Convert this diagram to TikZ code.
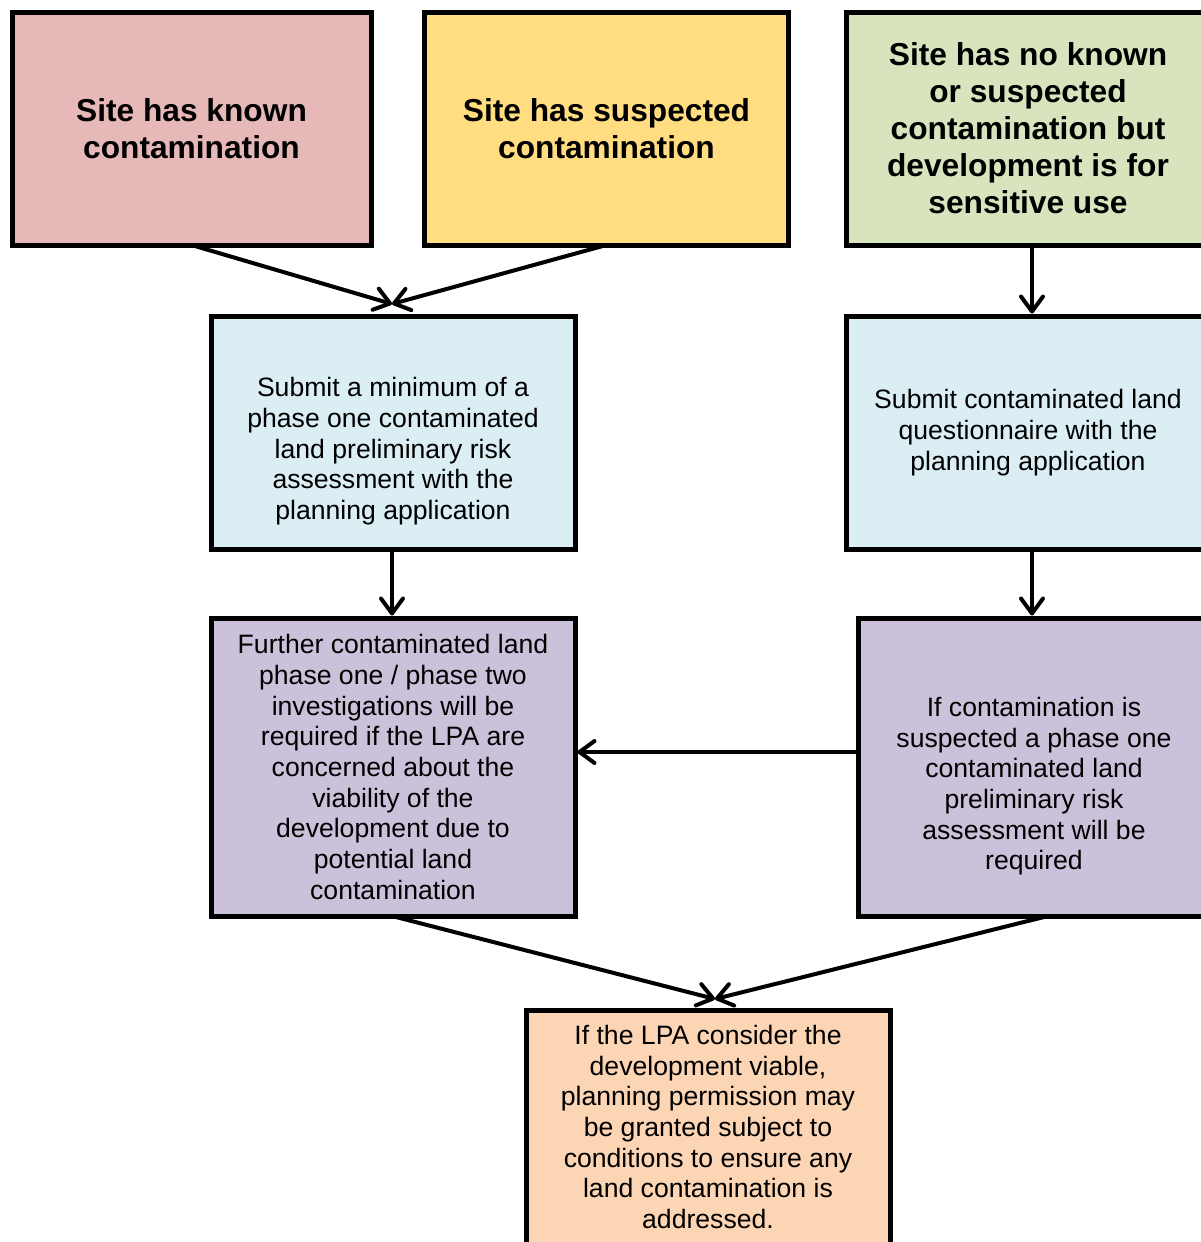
\documentclass[tikz,border=0pt]{standalone}
\usepackage{fontspec}
\setmainfont{Liberation Sans}
\usetikzlibrary{arrows.meta,calc}
\definecolor{cred}{HTML}{E6B9B8}
\definecolor{cyellow}{HTML}{FFDD80}
\definecolor{cgreen}{HTML}{D7E4BD}
\definecolor{cblue}{HTML}{DBEEF4}
\definecolor{cpurple}{HTML}{CCC1DA}
\definecolor{corange}{HTML}{FCD5B5}
\begin{document}
\begin{tikzpicture}[x=1pt,y=-1pt,
  box/.style={draw=black, line width=5pt, align=center, inner sep=0pt, outer sep=0pt,
    font=\fontsize{26.6}{30.7}\selectfont},
  headbox/.style={box, font=\fontsize{31.7}{37}\selectfont\bfseries},
  arr/.style={draw=black, line width=4pt, line cap=round, line join=round,
    -{Straight Barb[length=15pt,width=22pt,line cap=round,line join=round]}}
]
\useasboundingbox (0,0) rectangle (1201,1242);
\clip (0,0) rectangle (1201,1242);
\fill[white] (0,0) rectangle (1201,1242);

\node[headbox, fill=cred, minimum width=359pt, minimum height=233pt] (red) at (191.5,128.5)
  {Site has known\\contamination};
\node[headbox, fill=cyellow, minimum width=364pt, minimum height=233pt] (yellow) at (606.5,128.5)
  {Site has suspected\\contamination};
\node[headbox, fill=cgreen, minimum width=364pt, minimum height=233pt] (green) at (1028,128.5)
  {Site has no known\\or suspected\\contamination but\\development is for\\sensitive use};

\node[box, fill=cblue, minimum width=364pt, minimum height=233pt] (blueL) at (393,432.5)
  {\rule{0pt}{26pt}\\Submit a minimum of a\\phase one contaminated\\land preliminary risk\\assessment with the\\planning application};
\node[box, fill=cblue, minimum width=364pt, minimum height=233pt] (blueR) at (1028,432.5)
  {Submit contaminated land\\questionnaire with the\\planning application};

\node[box, fill=cpurple, minimum width=364pt, minimum height=298pt] (purpL) at (393,767)
  {Further contaminated land\\phase one / phase two\\investigations will be\\required if the LPA are\\concerned about the\\viability of the\\development due to\\potential land\\contamination};
\node[box, fill=cpurple, minimum width=352pt, minimum height=298pt] (purpR) at (1034,767)
  {\rule{0pt}{27pt}\\If contamination is\\suspected a phase one\\contaminated land\\preliminary risk\\assessment will be\\required};

\node[box, fill=corange, minimum width=364pt, minimum height=234pt] (orange) at (708,1127)
  {If the LPA consider the\\development viable,\\planning permission may\\be granted subject to\\conditions to ensure any\\land contamination is\\addressed.};

\coordinate (tipA) at (392,304);
\coordinate (tipB) at (715,999);
\coordinate (gx) at ($(green.south)+(4,0)$);
\coordinate (bx) at ($(blueR.south)+(4,0)$);

\draw[arr] (red.south) -- (tipA);
\draw[arr] (yellow.south) -- (tipA);
\draw[arr, shorten >=2.5pt] (gx) -- (gx |- blueR.north);
\draw[arr, shorten >=2.5pt] ($(blueL.south)+(-1,0)$) -- ($(purpL.north)+(-1,0)$);
\draw[arr, shorten >=2.5pt] (bx) -- (bx |- purpR.north);
\draw[arr, shorten >=2.5pt] ($(purpR.west)+(0,-15)$) -- ($(purpL.east)+(0,-15)$);
\draw[arr] ($(purpL.south)+(-1,0)$) -- (tipB);
\draw[arr] ($(purpR.south)+(14,0)$) -- (tipB);
\end{tikzpicture}
\end{document}
